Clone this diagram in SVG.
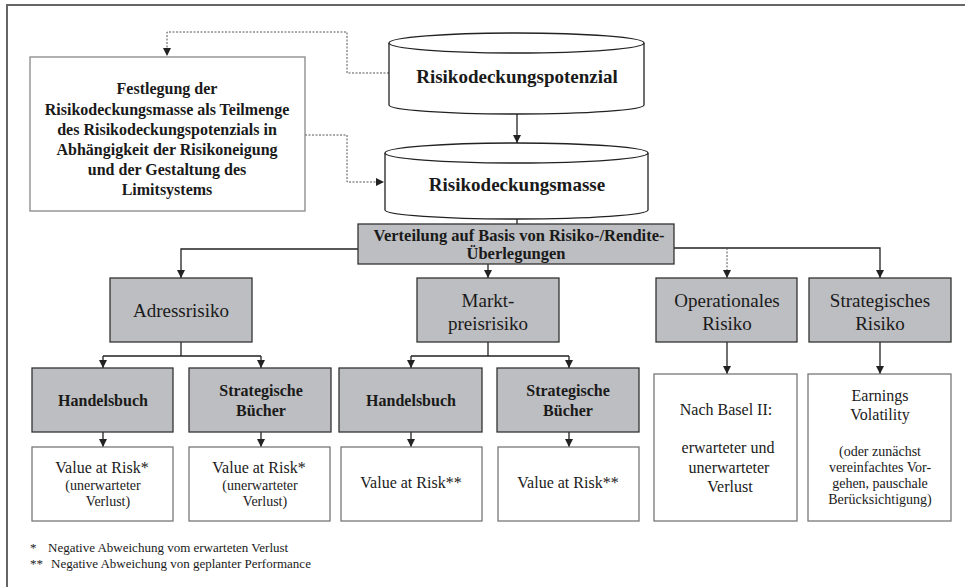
<svg xmlns="http://www.w3.org/2000/svg" width="965" height="587" viewBox="0 0 965 587">
<style>
text{font-family:"Liberation Serif","Times New Roman",serif;fill:#1a1a1a;text-anchor:middle}
.b{font-weight:bold}
.g{fill:#bdbec1;stroke:#333;stroke-width:1.3}
.w{fill:#fff;stroke:#777;stroke-width:1.3}
.cyl{fill:#fff;stroke:#222;stroke-width:1.3}
.ln{fill:none;stroke:#222;stroke-width:1.3}
.dt{fill:none;stroke:#555;stroke-width:1;stroke-dasharray:2,1.5}
.f{text-anchor:start;font-size:13px}
</style>
<defs>
<marker id="ah" markerUnits="userSpaceOnUse" markerWidth="9" markerHeight="9" refX="8" refY="4" orient="auto">
<path d="M0,0 L8,4 L0,8 z" fill="#222"/>
</marker>
</defs>
<rect x="7" y="5" width="975" height="600" fill="#fff" stroke="#666" stroke-width="2"/>
<g id="connectors">
<path class="dt" d="M389,73 H347 V32 H167 V56" marker-end="url(#ah)"/>
<path class="dt" d="M305,135 H347 V182 H384" marker-end="url(#ah)"/>
<path class="ln" d="M517,114 V143" marker-end="url(#ah)"/>
<path class="ln" d="M517,218 V224"/>
<path class="ln" d="M358,249 H181 V278" marker-end="url(#ah)"/>
<path class="ln" d="M488,264 V278" marker-end="url(#ah)"/>
<path class="ln" d="M674,248 H880 V278" marker-end="url(#ah)"/>
<path class="dt" d="M727,248 V278" marker-end="url(#ah)"/>
<path class="ln" d="M181,342 V356 M103,356 H261"/>
<path class="ln" d="M103,356 V368" marker-end="url(#ah)"/>
<path class="ln" d="M261,356 V368" marker-end="url(#ah)"/>
<path class="ln" d="M488,342 V356 M411,356 H569"/>
<path class="ln" d="M411,356 V368" marker-end="url(#ah)"/>
<path class="ln" d="M569,356 V368" marker-end="url(#ah)"/>
<path class="ln" d="M103,432 V447" marker-end="url(#ah)"/>
<path class="ln" d="M261,432 V447" marker-end="url(#ah)"/>
<path class="ln" d="M411,432 V447" marker-end="url(#ah)"/>
<path class="ln" d="M569,432 V447" marker-end="url(#ah)"/>
<path class="ln" d="M727,342 V374" marker-end="url(#ah)"/>
<path class="ln" d="M880,342 V374" marker-end="url(#ah)"/>
</g>
<g id="festlegung">
<rect x="30" y="57" width="275" height="154" fill="#fff" stroke="#888" stroke-width="1.3"/>
<text class="b" font-size="16"><tspan x="167" y="94">Festlegung der</tspan><tspan x="167" y="115">Risikodeckungsmasse als Teilmenge</tspan><tspan x="167" y="135">des Risikodeckungspotenzials in</tspan><tspan x="167" y="155">Abhängigkeit der Risikoneigung</tspan><tspan x="167" y="175">und der Gestaltung des</tspan><tspan x="167" y="195">Limitsystems</tspan></text>
</g>
<g id="potenzial">
<path class="cyl" d="M389,43 V105 A127.5,9 0 0,0 644,105 V43"/>
<ellipse class="cyl" cx="516.5" cy="43" rx="127.5" ry="10"/>
<text class="b" x="517" y="83" font-size="19">Risikodeckungspotenzial</text>
</g>
<g id="masse">
<path class="cyl" d="M385,153 V210 A131.5,9 0 0,0 648,210 V153"/>
<ellipse class="cyl" cx="516.5" cy="153" rx="131.5" ry="10"/>
<text class="b" x="517" y="191" font-size="19">Risikodeckungsmasse</text>
</g>
<g id="verteilung">
<rect class="g" x="358" y="224" width="316" height="40"/>
<text class="b" font-size="16.5"><tspan x="519" y="241">Verteilung auf Basis von Risiko-/Rendite-</tspan><tspan x="516" y="259">Überlegungen</tspan></text>
</g>
<g id="adressrisiko">
<rect class="g" x="110" y="278" width="142" height="64"/>
<text x="181" y="317" font-size="19">Adressrisiko</text>
</g>
<g id="marktpreisrisiko">
<rect class="g" x="417" y="278" width="142" height="64"/>
<text font-size="19"><tspan x="488" y="307">Markt-</tspan><tspan x="488" y="330">preisrisiko</tspan></text>
</g>
<g id="operationales">
<rect class="g" x="656" y="278" width="141" height="64"/>
<text font-size="19"><tspan x="727" y="307">Operationales</tspan><tspan x="727" y="330">Risiko</tspan></text>
</g>
<g id="strategisches">
<rect class="g" x="809" y="278" width="142" height="64"/>
<text font-size="19"><tspan x="880" y="307">Strategisches</tspan><tspan x="880" y="330">Risiko</tspan></text>
</g>
<g id="handelsbuch1">
<rect class="g" x="32" y="368" width="141" height="64"/>
<text class="b" x="103" y="406" font-size="16">Handelsbuch</text>
</g>
<g id="buecher1">
<rect class="g" x="189" y="368" width="142" height="64"/>
<text class="b" font-size="16"><tspan x="261" y="396">Strategische</tspan><tspan x="261" y="416">Bücher</tspan></text>
</g>
<g id="handelsbuch2">
<rect class="g" x="339" y="368" width="143" height="64"/>
<text class="b" x="411" y="406" font-size="16">Handelsbuch</text>
</g>
<g id="buecher2">
<rect class="g" x="497" y="368" width="142" height="64"/>
<text class="b" font-size="16"><tspan x="568" y="396">Strategische</tspan><tspan x="568" y="416">Bücher</tspan></text>
</g>
<g id="var1">
<rect class="w" x="32" y="447" width="141" height="74"/>
<text x="102" y="473" font-size="16">Value at Risk*</text>
<text font-size="14"><tspan x="103" y="490">(unerwarteter</tspan><tspan x="108" y="506">Verlust)</tspan></text>
</g>
<g id="var2">
<rect class="w" x="189" y="447" width="141" height="74"/>
<text x="259" y="473" font-size="16">Value at Risk*</text>
<text font-size="14"><tspan x="260" y="490">(unerwarteter</tspan><tspan x="265" y="506">Verlust)</tspan></text>
</g>
<g id="var3">
<rect class="w" x="341" y="447" width="141" height="74"/>
<text x="411" y="488" font-size="16">Value at Risk**</text>
</g>
<g id="var4">
<rect class="w" x="498" y="447" width="141" height="74"/>
<text x="568" y="488" font-size="16">Value at Risk**</text>
</g>
<g id="basel">
<rect class="w" x="654" y="374" width="143" height="147"/>
<text font-size="16"><tspan x="726" y="415">Nach Basel II:</tspan><tspan x="728" y="453">erwarteter und</tspan><tspan x="729" y="473">unerwarteter</tspan><tspan x="730" y="492">Verlust</tspan></text>
</g>
<g id="earnings">
<rect class="w" x="808" y="374" width="143" height="147"/>
<text font-size="16"><tspan x="880" y="401">Earnings</tspan><tspan x="880" y="420">Volatility</tspan></text>
<text font-size="14"><tspan x="880" y="456">(oder zunächst</tspan><tspan x="880" y="472">vereinfachtes Vor-</tspan><tspan x="880" y="488">gehen, pauschale</tspan><tspan x="880" y="504">Berücksichtigung)</tspan></text>
</g>
<g id="footnotes">
<text class="f" x="30" y="552">*</text>
<text class="f" x="48" y="552">Negative Abweichung vom erwarteten Verlust</text>
<text class="f" x="30" y="568">**</text>
<text class="f" x="51" y="568">Negative Abweichung von geplanter Performance</text>
</g>
</svg>
